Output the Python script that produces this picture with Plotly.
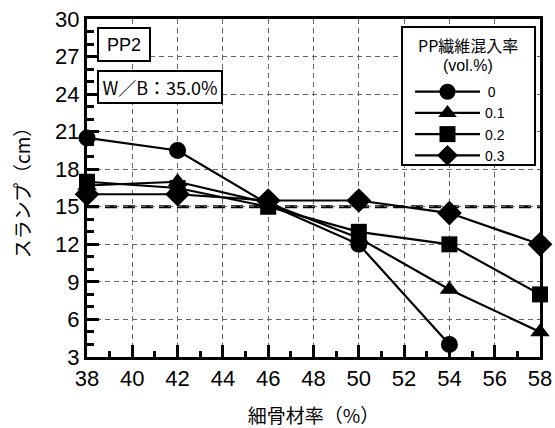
import plotly.graph_objects as go

x_vals = [38, 42, 46, 50, 54, 58]
series_names = ["\u20090", "0.1", "0.2", "0.3"]
slump_0 = [20.5, 19.5, 15.2, 12.0, 4.0, None]
slump_01 = [16.7, 17.0, 15.3, 12.5, 8.4, 5.0]
slump_02 = [17.0, 16.5, 15.0, 13.0, 12.0, 8.0]
slump_03 = [16.0, 16.0, 15.5, 15.5, 14.5, 12.0]
symbols = ["circle", "triangle-up", "square", "diamond"]
marker_sizes = [17, 17, 16, 19]
target_slump = 15
legend_title_1 = "PP繊維混入率"
legend_title_2 = "(vol.%)"

JP = "Noto Sans CJK JP"
NUM = "Liberation Sans, Arial, sans-serif"

fig = go.Figure()
for name, ys, sym, sz in zip(series_names, [slump_0, slump_01, slump_02, slump_03], symbols, marker_sizes):
    fig.add_trace(go.Scatter(
        x=x_vals, y=ys, name=name, mode="lines+markers",
        line=dict(color="black", width=2.2),
        marker=dict(symbol=sym, size=sz, color="black"),
        cliponaxis=False,
    ))

fig.add_shape(type="line", xref="x", yref="y", x0=38, x1=58, y0=target_slump, y1=target_slump,
              line=dict(color="black", width=3, dash="12px,6px"), layer="below")

# legend frame
fig.add_shape(type="rect", xref="paper", yref="paper", x0=0.6954, x1=0.989, y0=0.568, y1=0.9763,
              line=dict(color="black", width=2), fillcolor="white", layer="above")

axis_common = dict(
    showline=True, linecolor="black", linewidth=3, mirror=True,
    ticks="inside", ticklen=12, tickwidth=3, tickcolor="black",
    showgrid=True, gridcolor="#666", griddash="5px,4px", gridwidth=1,
    zeroline=False, automargin=False,
    tickfont=dict(family=NUM, size=22, color="black"),
)

fig.update_xaxes(range=[38, 58], dtick=2, tick0=38,
                 minor=dict(dtick=1, ticks="inside", ticklen=6, tickwidth=3, tickcolor="black", showgrid=False),
                 title=dict(text="細骨材率（%）", font=dict(family=JP, size=19, color="black"), standoff=24),
                 **axis_common)
fig.update_yaxes(range=[3, 30], dtick=3, tick0=3,
                 minor=dict(dtick=1, ticks="inside", ticklen=7, tickwidth=3, tickcolor="black", showgrid=False),
                 title=dict(text="スランプ（cm）", font=dict(family=JP, size=19, color="black"), standoff=20),
                 **axis_common)

fig.add_annotation(xref="paper", yref="paper", x=0.022, y=0.976, xanchor="left", yanchor="top",
                   text="PP2", showarrow=False, font=dict(family=NUM, size=18, color="black"),
                   bordercolor="black", borderwidth=2, borderpad=1, bgcolor="white", width=48, height=29)
fig.add_annotation(xref="paper", yref="paper", x=0.022, y=0.849, xanchor="left", yanchor="top",
                   text="W／B：35.0%", showarrow=False, font=dict(family=JP, size=18, color="black"),
                   bordercolor="black", borderwidth=2, borderpad=1, bgcolor="white", width=120, height=28)

fig.add_annotation(xref="paper", yref="paper", x=0.8411, y=0.923, xanchor="center", yanchor="middle",
                   text=legend_title_1, showarrow=False, font=dict(family=JP, size=16, color="black"))
fig.add_annotation(xref="paper", yref="paper", x=0.8411, y=0.863, xanchor="center", yanchor="middle",
                   text=legend_title_2, showarrow=False, font=dict(family=NUM, size=16, color="black"))

fig.update_layout(
    width=555, height=428,
    margin=dict(l=87, r=15, t=19, b=71, autoexpand=False),
    plot_bgcolor="white", paper_bgcolor="white",
    font=dict(family=JP, color="black"),
    legend=dict(
        x=0.713, y=0.831, xanchor="left", yanchor="top",
        borderwidth=0, bgcolor="rgba(0,0,0,0)",
        font=dict(family=NUM, size=14, color="black"),
        itemwidth=65, tracegroupgap=0,
    ),
)

fig.write_html("out.html", config={"displayModeBar": False},
               post_script="document.body.style.margin='0';")
